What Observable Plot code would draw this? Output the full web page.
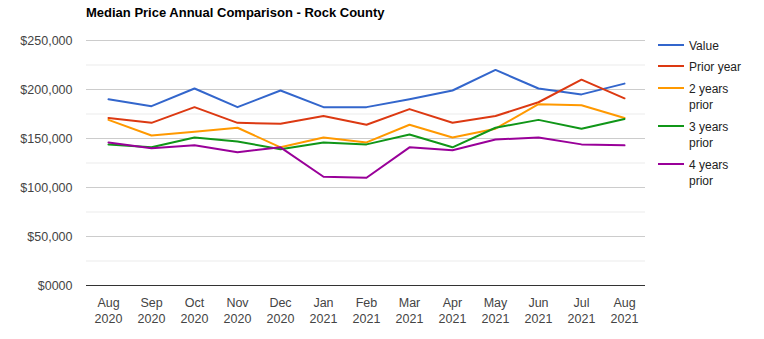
<!DOCTYPE html>
<html>
<head>
<meta charset="utf-8">
<script src="https://cdn.jsdelivr.net/npm/d3@7"></script>
<script src="https://cdn.jsdelivr.net/npm/@observablehq/plot@0.6"></script>
<style>
  html, body { margin: 0; padding: 0; background: #fff; }
  #wrap { position: relative; width: 764px; height: 339px; font-family: Arial, "Liberation Sans", sans-serif; }
  #title { position: absolute; left: 86px; top: 5px; font-size: 13px; font-weight: bold; line-height: 16px; color: #000; }
  .leg { position: absolute; left: 658px; font-size: 12px; line-height: 16px; color: #222; }
  .leg .sw { position: absolute; left: 0; top: 6px; width: 26px; height: 2px; }
  .leg .tx { position: absolute; left: 31px; top: 0; white-space: nowrap; }
  #chart svg { position: absolute; left: 0; top: 0; }
</style>
</head>
<body>
<div id="wrap">
  <div id="chart"></div>
  <div id="title">Median Price Annual Comparison - Rock County</div>
  <div id="legend"></div>
</div>
<script>
const months = ["Aug 2020","Sep 2020","Oct 2020","Nov 2020","Dec 2020","Jan 2021","Feb 2021","Mar 2021","Apr 2021","May 2021","Jun 2021","Jul 2021","Aug 2021"];
const seriesNames = ["Value","Prior year","2 years prior","3 years prior","4 years prior"];
const seriesColors = ["#3366cc","#dc3912","#ff9900","#109618","#990099"];
const value      = [190000,183000,201000,182000,199000,182000,182000,190000,199000,220000,201000,195000,206000];
const priorYear  = [171000,166000,182000,166000,165000,173000,164000,180000,166000,173000,187000,210000,191000];
const twoYears   = [169000,153000,157000,161000,141000,151000,146000,164000,151000,160000,185000,184000,171000];
const threeYears = [144000,141000,151000,147000,139000,146000,144000,154000,141000,161000,169000,160000,170000];
const fourYears  = [146000,140000,143000,136000,141000,111000,110000,141000,138000,149000,151000,144000,143000];
const yTicks = [0,50000,100000,150000,200000,250000];
const yMinor = [25000,75000,125000,175000,225000];
const yTickLabels = ["$0000","$50,000","$100,000","$150,000","$200,000","$250,000"];

const allSeries = [value, priorYear, twoYears, threeYears, fourYears];
const rows = [];
allSeries.forEach((arr, si) => arr.forEach((v, i) => rows.push({month: months[i], series: seriesNames[si], value: v})));

const chart = Plot.plot({
  width: 764,
  height: 339,
  marginLeft: 86,
  marginRight: 119,
  marginTop: 40,
  marginBottom: 54,
  style: {fontFamily: "Arial, 'Liberation Sans', sans-serif", fontSize: "12px", background: "#fff"},
  x: {type: "point", domain: months, padding: 0.5},
  y: {domain: [0, 250000]},
  color: {domain: seriesNames, range: seriesColors},
  marks: [
    Plot.ruleY(yMinor, {stroke: "#ebebeb", strokeWidth: 1}),
    Plot.ruleY(yTicks.filter(d => d > 0), {stroke: "#cccccc", strokeWidth: 1}),
    Plot.lineY(rows, {x: "month", y: "value", z: "series", stroke: "series", strokeWidth: 2}),
    Plot.ruleY([0], {stroke: "#333", strokeWidth: 1}),
    Plot.axisY({ticks: yTicks, tickFormat: d => yTickLabels[yTicks.indexOf(d)], tickSize: 0, tickPadding: 14, fill: "#444", fontSize: 12.5, label: null}),
    Plot.axisX({tickSize: 0, tickPadding: 10, tickFormat: d => d.replace(" ", "\n"), fill: "#444", fontSize: 12.5, lineHeight: 1.3, label: null})
  ]
});
document.getElementById("chart").appendChild(chart);

const legTops = [38, 59.3, 80.6, 119, 157.3];
const leg = document.getElementById("legend");
seriesNames.forEach((name, i) => {
  const d = document.createElement("div");
  d.className = "leg";
  d.style.top = legTops[i] + "px";
  const sw = document.createElement("div");
  sw.className = "sw";
  sw.style.background = seriesColors[i];
  const tx = document.createElement("div");
  tx.className = "tx";
  tx.innerHTML = name.includes("years") ? name.replace(" prior", "<br>prior") : name;
  d.appendChild(sw); d.appendChild(tx);
  leg.appendChild(d);
});
</script>
</body>
</html>
